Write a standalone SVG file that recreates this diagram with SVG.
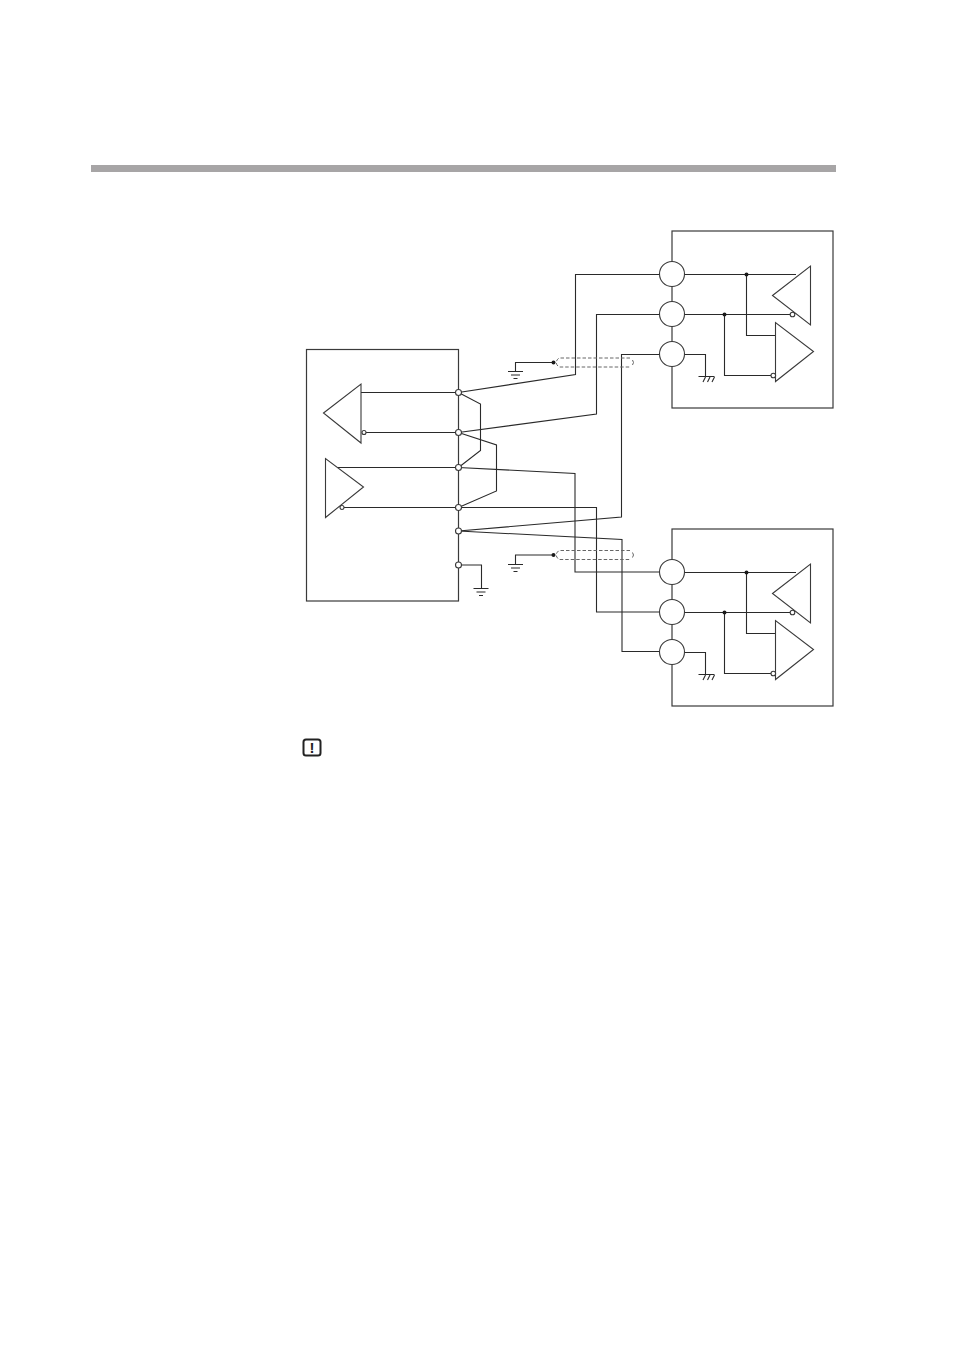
<svg xmlns="http://www.w3.org/2000/svg" width="954" height="1351" viewBox="0 0 954 1351">
<style>
.l{fill:none;stroke:#2a2a2a;stroke-width:1.1}
.b{fill:none;stroke:#3a3a3a;stroke-width:1.2}
.t{fill:#fff;stroke:#3a3a3a;stroke-width:1.1}
.o{fill:#fff;stroke:#3a3a3a;stroke-width:1.1}
.d{fill:#1a1a1a;stroke:none}
.s{fill:none;stroke:#666;stroke-width:1;stroke-dasharray:3.5 2}
</style>
<defs>
<g id="earth"><path class="l" d="M-7.500 0H7.500M-4.500 3.500H4.500M-2 7H2"/></g>
<g id="unit">
<rect class="b" x="672" y="231" width="161" height="177"/>
<path class="l" d="M684.500 274.500H796M684.500 314.500H790M746.500 274.500V335.500H775.500M724.500 314.500V375.500H771M684.500 354.500H705.500V376"/>
<path class="l" d="M698.500 376.500H714.500M703 382L705.500 377M707.500 382L710 377M712 382L714.500 377"/>
<path class="t" d="M772.500 295.500L810.500 266V325Z"/>
<path class="t" d="M775.500 322.500V381.500L813.500 351.500Z"/>
<circle class="d" cx="746.500" cy="274.500" r="2"/>
<circle class="d" cx="724.500" cy="314.500" r="2"/>
<circle class="o" cx="792.500" cy="314.500" r="2.300"/>
<circle class="o" cx="773.300" cy="375.500" r="2.300"/>
<circle class="o" cx="672" cy="274" r="12.500"/>
<circle class="o" cx="672" cy="314" r="12.500"/>
<circle class="o" cx="672" cy="354" r="12.500"/>
</g>
</defs>
<rect id="header-bar" x="91" y="165" width="745" height="7" fill="#a7a5a6"/>
<g id="connectors">
<path class="l" d="M458.500 392.500L575.500 374.500V274.500H660"/>
<path class="l" d="M458.500 432.500L596.500 414V314.500H660"/>
<path class="l" d="M458.500 531L621.500 517V354.500H660"/>
<path class="l" d="M458.500 467.500L575 473.500V572H660"/>
<path class="l" d="M458.500 507.500H596.500V612H660"/>
<path class="l" d="M458.500 531L622 539.500V651.500H660"/>
<path class="l" d="M458.500 392.500L480.500 404V450.500L458.500 467.500"/>
<path class="l" d="M458.500 432.500L496.500 445V491L458.500 507.500"/>
</g>
<g id="host">
<rect class="b" x="306.500" y="349.500" width="152" height="251.500"/>
<path class="l" d="M361 392.500H458M366 432.500H458M337 467.500H458M344 507.500H458M458.500 565H481.500V588"/>
<path class="t" d="M323.500 413L361 384V443Z"/>
<path class="t" d="M325.500 458.500V517.500L363.500 487Z"/>
<circle class="o" cx="364" cy="432.500" r="2"/>
<circle class="o" cx="342" cy="507.500" r="2"/>
<use href="#earth" x="481" y="588.500"/>
<circle class="o" cx="458.500" cy="392.500" r="3"/>
<circle class="o" cx="458.500" cy="432.500" r="3"/>
<circle class="o" cx="458.500" cy="467.500" r="3"/>
<circle class="o" cx="458.500" cy="507.500" r="3"/>
<circle class="o" cx="458.500" cy="531" r="3"/>
<circle class="o" cx="458.500" cy="565" r="3"/>
</g>
<g id="unit-1"><use href="#unit"/></g>
<g id="unit-2"><use href="#unit" y="298"/></g>
<g id="shield-1">
<path class="s" d="M630 358H559Q553.500 362.500 559 367H630"/>
<path class="s" style="stroke-dasharray:none" d="M632.500 360Q634.500 362.500 632.500 365"/>
<path class="l" d="M553.500 362.500H515.500V371"/>
<circle class="d" cx="553.500" cy="362.500" r="2"/>
<use href="#earth" x="515.500" y="371.500"/>
</g>
<g id="shield-2">
<path class="s" d="M630 550.500H559Q553.500 555 559 559.500H630"/>
<path class="s" style="stroke-dasharray:none" d="M632.500 552.500Q634.500 555 632.500 557.500"/>
<path class="l" d="M553.500 555H515.500V564"/>
<circle class="d" cx="553.500" cy="555" r="2"/>
<use href="#earth" x="515.500" y="564.500"/>
</g>
<g id="caution">
<rect x="303.500" y="739.500" width="17" height="16" rx="2.500" fill="#fff" stroke="#222" stroke-width="2"/>
<text x="312" y="752.800" text-anchor="middle" font-family="Liberation Sans, sans-serif" font-weight="700" font-size="15" fill="#222">!</text>
</g>
</svg>
